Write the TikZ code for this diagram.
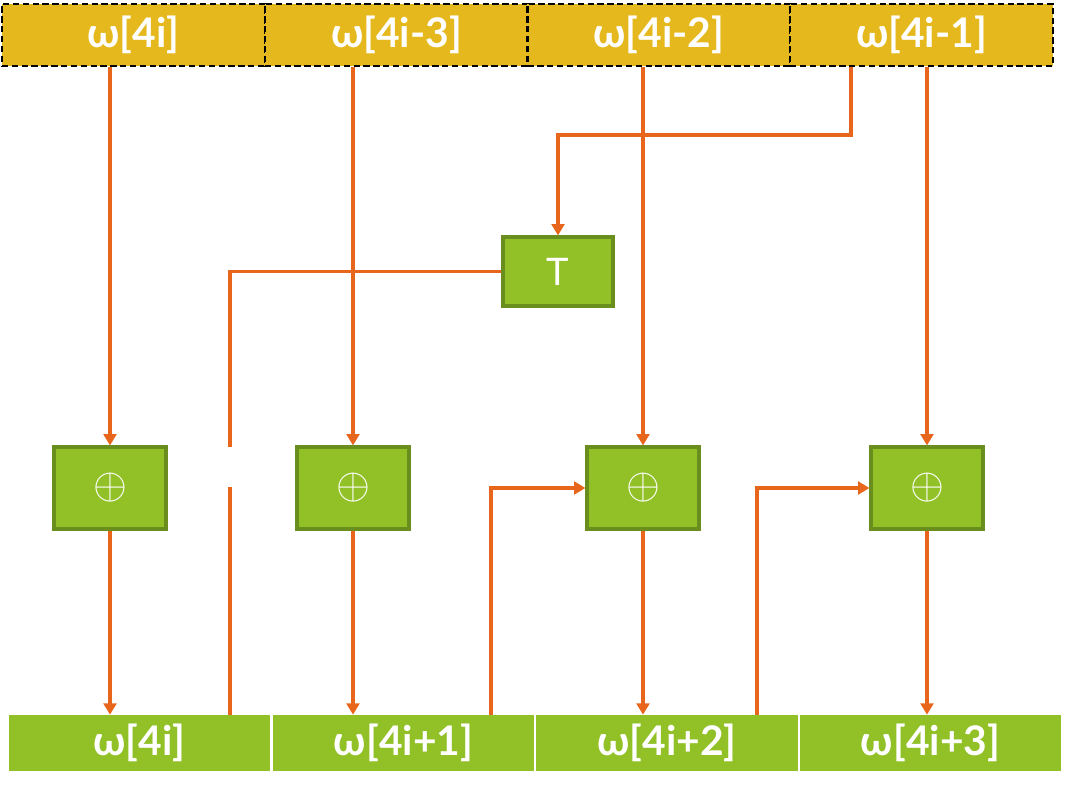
\documentclass[tikz,border=0pt]{standalone}
\usepackage{fontspec}
\setmainfont{Lato}
\usetikzlibrary{calc, arrows.meta, positioning}

\definecolor{gold}{HTML}{E5B91E}
\definecolor{leaf}{HTML}{92C127}
\definecolor{leafdark}{HTML}{6A8E1E}
\definecolor{wirecol}{HTML}{E8661C}

\newcommand{\xorsym}{\scalebox{3.1}{\normalsize$\oplus$}}

\begin{document}
\begin{tikzpicture}[x=0.025cm, y=-0.025cm,
    inword/.style={draw=black, dashed, dash pattern=on 4.5pt off 2.5pt, line width=1.8pt,
        fill=gold, minimum width=6.575cm, minimum height=1.55cm, inner sep=0pt,
        text=white, font=\fontsize{29}{32}\selectfont\bfseries},
    outword/.style={fill=leaf, minimum width=6.525cm, minimum height=1.4cm, inner sep=0pt,
        text=white, font=\fontsize{29}{32}\selectfont\bfseries},
    xorbox/.style={draw=leafdark, line width=2.2pt, fill=leaf, minimum width=2.8cm,
        minimum height=2.05cm, inner sep=0pt, text=white, font=\fontsize{27}{27}\selectfont},
    wire/.style={draw=wirecol, line width=2.2pt},
    arr/.style={wire, -{Triangle[width=9pt, length=8pt]}}]
    \useasboundingbox (0,0) rectangle (1068,790);
    % input words
    \node[inword] (w0) at (133.5,35) {ω[4i]};
    \node[inword] (w1) at (396.5,35) {ω[4i-3]};
    \node[inword] (w2) at (659,35) {ω[4i-2]};
    \node[inword] (w3) at (921.5,35) {ω[4i-1]};
    % output words
    \node[outword] (v0) at (139.5,743) {ω[4i]};
    \node[outword] (v1) at (403.5,743) {ω[4i+1]};
    \node[outword] (v2) at (667,743) {ω[4i+2]};
    \node[outword] (v3) at (930.5,743) {ω[4i+3]};
    % xor and T boxes
    \node[xorbox] (p1) at (110,488) {\xorsym};
    \node[xorbox] (p2) at (353,488) {\xorsym};
    \node[xorbox] (p3) at (643,488) {\xorsym};
    \node[xorbox] (p4) at (927,488) {\xorsym};
    \node[xorbox, minimum width=2.75cm, minimum height=1.725cm] (tb) at (558,271.5) {T};
    % bends
    \coordinate (k1) at (851,135);
    \coordinate (k2) at (230,271);
    \coordinate (gapTop) at (230,447);
    \coordinate (gapBot) at (230,487);
    \coordinate (k3) at (491,488);
    \coordinate (k4) at (757,488);
    % straight paths
    \draw[arr] (w0.south -| p1) -- (p1.north);
    \draw[arr] (w1.south -| p2) -- (p2.north);
    \draw[arr] (w2.south -| p3) -- (p3.north);
    \draw[arr] (w3.south -| p4) -- (p4.north);
    \draw[arr] (p1.south) -- (p1.south |- v0.north);
    \draw[arr] (p2.south) -- (p2.south |- v1.north);
    \draw[arr] (p3.south) -- (p3.south |- v2.north);
    \draw[arr] (p4.south) -- (p4.south |- v3.north);
    % T path
    \draw[arr] (w3.south -| k1) -- (k1) -- (k1 -| tb.north) -- (tb.north);
    \draw[wire] (tb.west) -- (tb.west -| k2) -- (gapTop);
    \draw[wire] (gapBot) -- (gapBot |- v0.north);
    % feedback
    \draw[arr] (v1.north -| k3) -- (k3) -- (p3.west);
    \draw[arr] (v2.north -| k4) -- (k4) -- (p4.west);
\end{tikzpicture}
\end{document}
